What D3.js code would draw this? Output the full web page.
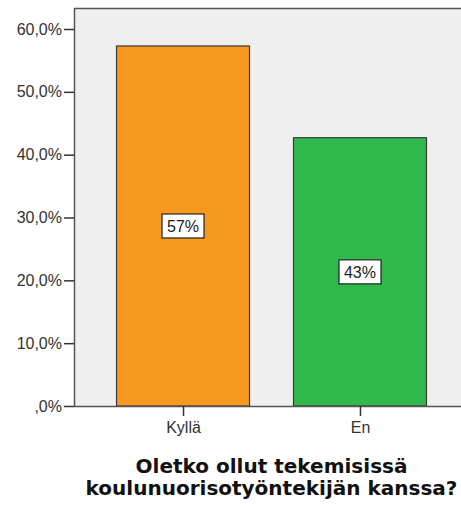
<!DOCTYPE html>
<html>
<head>
<meta charset="utf-8">
<script src="https://cdn.jsdelivr.net/npm/d3@7"></script>
<style>
  body { margin: 0; background: #fff; }
  svg text { font-family: "Liberation Sans", Arial, sans-serif; }
</style>
</head>
<body>
<div id="chart"></div>
<script>
// data
var categories = ["Kyllä", "En"];
var percents = [57.3, 42.7];
var barLabels = ["57%", "43%"];
var barColors = ["#f7981f", "#2fb84c"];
var yTicks = [0, 10, 20, 30, 40, 50, 60];
var titleLines = ["Oletko ollut tekemisissä", "koulunuorisotyöntekijän kanssa?"];

// set the dimensions and margins of the graph
var margin = {top: 8, right: -8, bottom: 99, left: 74},
    width = 461 - margin.left - margin.right,
    height = 505 - margin.top - margin.bottom;

var svg = d3.select("#chart")
  .append("svg")
    .attr("width", 461)
    .attr("height", 505)
  .append("g")
    .attr("transform", "translate(" + margin.left + "," + margin.top + ")");

// plot background
svg.append("rect")
  .attr("x", 0).attr("y", 0)
  .attr("width", width).attr("height", height)
  .attr("fill", "#efefef");
svg.append("line")
  .attr("x1", 0).attr("x2", width).attr("y1", 0.5).attr("y2", 0.5)
  .attr("stroke", "#555").attr("stroke-width", 1.5);

// X scale
var x = d3.scalePoint()
  .range([0, width])
  .domain(categories)
  .padding(0.616);
var barWidth = 133;

// Y scale
var y = d3.scaleLinear()
  .domain([0, 60])
  .range([height, 21]);

// Bars
svg.selectAll(".bar")
  .data(categories)
  .enter()
  .append("rect")
    .attr("class", "bar")
    .attr("x", function(d) { return x(d) - barWidth / 2; })
    .attr("y", function(d, i) { return y(percents[i]); })
    .attr("width", barWidth)
    .attr("height", function(d, i) { return height - y(percents[i]); })
    .attr("fill", function(d, i) { return barColors[i]; })
    .attr("stroke", "#3a3a3a")
    .attr("stroke-width", 1.2);

// value labels in boxes
var lab = svg.selectAll(".lab")
  .data(categories)
  .enter()
  .append("g")
    .attr("transform", function(d, i) {
      return "translate(" + x(d) + "," + (y(percents[i] / 2)) + ")";
    });
lab.append("rect")
  .attr("x", -21).attr("y", -12)
  .attr("width", 42).attr("height", 24)
  .attr("fill", "#fff")
  .attr("stroke", "#222")
  .attr("stroke-width", 1.2);
lab.append("text")
  .attr("text-anchor", "middle")
  .attr("dy", "0.36em")
  .style("font-size", "16px")
  .style("fill", "#222")
  .text(function(d, i) { return barLabels[i]; });

// Y axis
var yAxis = svg.append("g")
  .call(d3.axisLeft(y)
    .tickValues(yTicks)
    .tickSize(10)
    .tickPadding(2)
    .tickFormat(function(d) { return d === 0 ? ",0%" : d3.format(".1f")(d).replace(".", ",") + "%"; }));
yAxis.select(".domain").attr("d", "M0.5,0V" + height).attr("stroke", "#555").attr("stroke-width", 1.5);
yAxis.selectAll(".tick line").attr("stroke", "#333").attr("stroke-width", 1.5);
yAxis.selectAll("text").style("font-size", "16px").style("fill", "#333").style("font-family", "'Liberation Sans', Arial, sans-serif");

// X axis
var xAxis = svg.append("g")
  .attr("transform", "translate(0," + height + ")")
  .call(d3.axisBottom(x).tickSize(10).tickPadding(6));
xAxis.select(".domain").attr("d", "M0," + 0.5 + "H" + width).attr("stroke", "#555").attr("stroke-width", 1.5);
xAxis.selectAll(".tick line").attr("stroke", "#333").attr("stroke-width", 1.5);
xAxis.selectAll("text").style("font-size", "16px").style("fill", "#333").style("font-family", "'Liberation Sans', Arial, sans-serif");

// title
svg.append("text")
  .attr("x", width / 2)
  .attr("y", height + 67)
  .attr("text-anchor", "middle")
  .style("font-family", "'DejaVu Sans', Verdana, sans-serif")
  .style("font-weight", "bold")
  .style("font-size", "20px")
  .style("fill", "#111")
  .selectAll("tspan")
  .data(titleLines)
  .enter()
  .append("tspan")
    .attr("x", width / 2)
    .attr("dy", function(d, i) { return i === 0 ? 0 : 22; })
    .text(function(d) { return d; });
</script>
</body>
</html>
